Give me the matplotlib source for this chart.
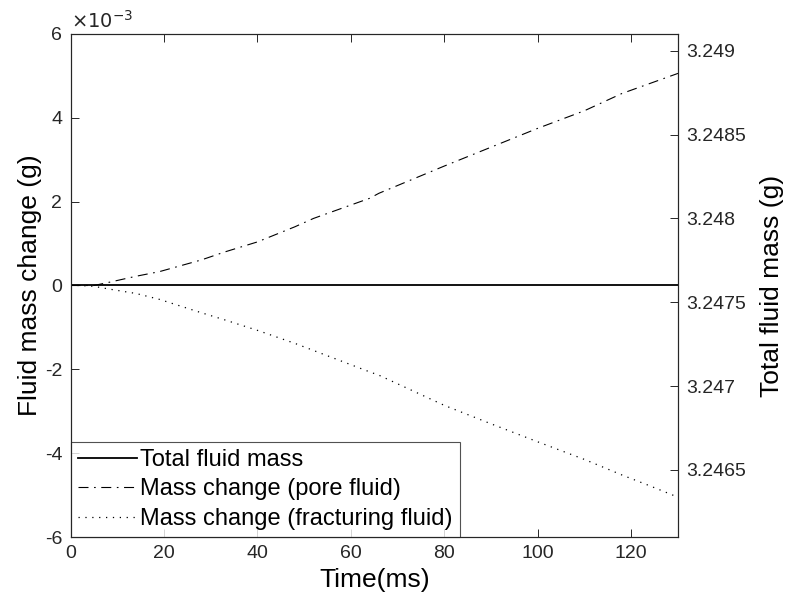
import matplotlib.pyplot as plt
from matplotlib.ticker import FuncFormatter

plt.rcParams['font.family'] = ['Liberation Sans', 'DejaVu Sans']

# time (ms)
time_ms = [0, 2, 5, 8, 14, 19, 28, 33, 40, 48, 52, 64, 66, 80, 90, 100, 110, 118, 124, 130]

# mass change of pore fluid (g)
pore = [0.0, 0.0, 0.0, 0.07e-3, 0.22e-3, 0.33e-3, 0.61e-3, 0.80e-3, 1.04e-3, 1.40e-3,
        1.60e-3, 2.08e-3, 2.20e-3, 2.85e-3, 3.30e-3, 3.75e-3, 4.17e-3, 4.58e-3, 4.82e-3, 5.06e-3]

# mass change of fracturing fluid (g)
frac = [0.0, 0.0, -0.02e-3, -0.08e-3, -0.19e-3, -0.33e-3, -0.65e-3, -0.82e-3, -1.07e-3,
        -1.38e-3, -1.55e-3, -2.06e-3, -2.14e-3, -2.86e-3, -3.30e-3, -3.73e-3, -4.15e-3,
        -4.52e-3, -4.78e-3, -5.05e-3]

# total fluid mass (g)
total = [3.24760] * len(time_ms)

fig = plt.figure(figsize=(7.89, 6.09), dpi=100)
ax = fig.add_axes([0.0894, 0.1182, 0.7699, 0.826])
ax2 = ax.twinx()

edge = '#262626'

l2, = ax.plot(time_ms, pore, color='k', linestyle='-.', linewidth=0.8,
              dashes=[9, 5, 1.5, 5], label='Mass change (pore fluid)')
l3, = ax.plot(time_ms, frac, color='k', linestyle=':', linewidth=0.9,
              dashes=[1, 4.5], label='Mass change (fracturing fluid)')
l1, = ax2.plot(time_ms, total, color='k', linestyle='-', linewidth=1.3,
               label='Total fluid mass')

ax.set_xlim(0, 130)
ax.set_ylim(-6e-3, 6e-3)
ax2.set_ylim(3.2461, 3.2491)

ax.set_xticks([0, 20, 40, 60, 80, 100, 120])
ax.set_yticks([-6e-3, -4e-3, -2e-3, 0, 2e-3, 4e-3, 6e-3])
ax.yaxis.set_major_formatter(FuncFormatter(lambda v, _: f'{v * 1e3:g}'))
ax2.set_yticks([3.2465, 3.247, 3.2475, 3.248, 3.2485, 3.249])
ax2.yaxis.set_major_formatter(FuncFormatter(lambda v, _: f'{v:g}'))

ax.tick_params(axis='both', direction='in', labelsize=14, colors=edge, length=6,
               width=0.7, top=True, pad=6)
ax.tick_params(axis='y', right=False)
ax2.tick_params(axis='y', direction='in', labelsize=14, colors=edge, length=6,
                width=0.7, pad=6)

for a in (ax, ax2):
    for s in a.spines.values():
        s.set_color(edge)
        s.set_linewidth(0.8)

ax.text(0.0, 1.004, r'$\times10^{-3}$', transform=ax.transAxes, fontsize=14,
        color=edge, ha='left', va='bottom')

ax.set_xlabel('Time(ms)', fontsize=19, labelpad=4)
ax.set_ylabel('Fluid mass change (g)', fontsize=19, labelpad=2)
ax2.set_ylabel('Total fluid mass (g)', fontsize=19, labelpad=10)

leg = ax.legend([l1, l2, l3], [l1.get_label(), l2.get_label(), l3.get_label()],
                loc='lower left', fontsize=17, frameon=True, fancybox=False,
                borderaxespad=0, handlelength=2.5, handletextpad=0.15,
                borderpad=0.3, labelspacing=0.32)
leg.get_frame().set_edgecolor(edge)
leg.get_frame().set_linewidth(0.8)

fig.savefig('out.png', dpi=100)
